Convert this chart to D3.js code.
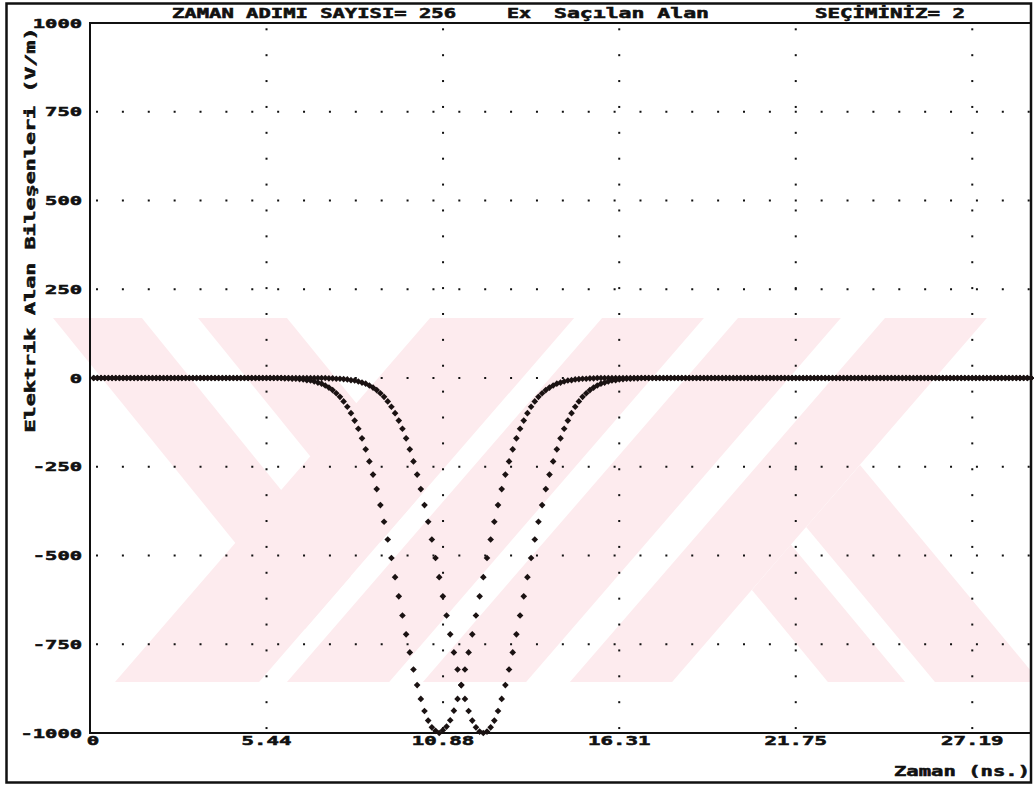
<!DOCTYPE html>
<html lang="tr">
<head>
<meta charset="utf-8">
<title>Ex Saçılan Alan</title>
<script src="https://d3js.org/d3.v7.min.js"></script>
<style>
  body { margin: 0; background: #fff; }
  text { font-family: "DejaVu Sans Mono", monospace; font-weight: bold; fill: #111; stroke: #111; stroke-width: 0.55px; }
</style>
</head>
<body>
<svg width="1034" height="787"></svg>
<script>
// zaman adimi sayisi ve eksen degerleri
var steps = 256;
var tMax = 29.0;
var xTicks = [0, 5.44, 10.88, 16.31, 21.75, 27.19];
var yTicks = [1000, 750, 500, 250, 0, -250, -500, -750, -1000];

// Ex sacilan alan, iki secim (V/m), 256 adim
var ex1 = [
  0,0,0,0,0,0,0,0,0,0,
  0,0,0,0,0,0,0,0,0,0,
  0,0,0,0,0,0,0,0,0,0,
  0,0,0,0,0,0,0,0,0,0,
  0,0,0,0,0,0,0,0,0,0,
  0,0,-1,-1,-2,-2,-3,-4,-6,-7,
  -10,-13,-16,-21,-27,-34,-43,-53,-66,-81,
  -99,-120,-143,-170,-201,-235,-272,-313,-358,-405,
  -455,-507,-561,-615,-669,-722,-773,-821,-865,-904,
  -938,-965,-984,-994,-1000,-992,-982,-964,-937,-904,
  -865,-821,-773,-722,-669,-615,-561,-507,-455,-405,
  -358,-313,-272,-235,-201,-170,-143,-120,-99,-81,
  -66,-53,-43,-34,-27,-21,-16,-13,-10,-7,
  -6,-4,-3,-2,-2,-1,-1,0,0,0,
  0,0,0,0,0,0,0,0,0,0,
  0,0,0,0,0,0,0,0,0,0,
  0,0,0,0,0,0,0,0,0,0,
  0,0,0,0,0,0,0,0,0,0,
  0,0,0,0,0,0,0,0,0,0,
  0,0,0,0,0,0,0,0,0,0,
  0,0,0,0,0,0,0,0,0,0,
  0,0,0,0,0,0,0,0,0,0,
  0,0,0,0,0,0,0,0,0,0,
  0,0,0,0,0,0,0,0,0,0,
  0,0,0,0,0,0,0,0,0,0,
  0,0,0,0,0,0
];
var ex2 = [
  0,0,0,0,0,0,0,0,0,0,
  0,0,0,0,0,0,0,0,0,0,
  0,0,0,0,0,0,0,0,0,0,
  0,0,0,0,0,0,0,0,0,0,
  0,0,0,0,0,0,0,0,0,0,
  0,0,0,0,0,0,0,0,0,0,
  0,0,0,0,-1,-1,-2,-2,-3,-4,
  -6,-7,-10,-13,-16,-21,-27,-34,-43,-53,
  -66,-81,-99,-120,-143,-170,-201,-235,-272,-313,
  -358,-405,-455,-507,-561,-615,-669,-722,-773,-821,
  -865,-904,-938,-965,-984,-996,-1000,-996,-984,-965,
  -938,-904,-865,-821,-773,-722,-669,-615,-561,-507,
  -455,-405,-358,-313,-272,-235,-201,-170,-143,-120,
  -99,-81,-66,-53,-43,-34,-27,-21,-16,-13,
  -10,-7,-6,-4,-3,-2,-2,-1,-1,0,
  0,0,0,0,0,0,0,0,0,0,
  0,0,0,0,0,0,0,0,0,0,
  0,0,0,0,0,0,0,0,0,0,
  0,0,0,0,0,0,0,0,0,0,
  0,0,0,0,0,0,0,0,0,0,
  0,0,0,0,0,0,0,0,0,0,
  0,0,0,0,0,0,0,0,0,0,
  0,0,0,0,0,0,0,0,0,0,
  0,0,0,0,0,0,0,0,0,0,
  0,0,0,0,0,0,0,0,0,0,
  0,0,0,0,0,0
];

// taramadaki pembe filigran (ns, V/m cinsinden)
var watermark = [
  [[-1.14,169],[1.60,169],[8.04,-558],[6.63,-707]],
  [[3.33,169],[6.07,169],[10.36,-313],[8.94,-463]],
  [[10.48,169],[14.92,169],[5.21,-856],[0.77,-856]],
  [[15.78,169],[18.92,169],[9.22,-856],[6.07,-856]],
  [[19.97,169],[23.14,169],[13.44,-856],[10.26,-856]],
  [[24.50,169],[27.64,169],[17.94,-856],[14.79,-856]],
  [[20.40,-597],[21.60,-469],[25.12,-856],[22.74,-856]],
  [[22.07,-420],[23.73,-245],[29.28,-856],[26.04,-856]]
];

var svg = d3.select("svg");
var margin = {top: 23, right: 3, bottom: 54, left: 90};
var W = +svg.attr("width"), H = +svg.attr("height");

var x = d3.scaleLinear().domain([0, tMax]).range([margin.left, W - margin.right]);
var y = d3.scaleLinear().domain([-1000, 1000]).range([H - margin.bottom, margin.top]);
var dt = tMax / steps;

svg.append("clipPath").attr("id", "wmclip")
  .append("rect").attr("x", 0).attr("y", 0)
  .attr("width", x.range()[1]).attr("height", H);

svg.append("g").attr("clip-path", "url(#wmclip)")
  .selectAll("polygon").data(watermark).enter().append("polygon")
  .attr("points", d => d.map(p => x(p[0]) + "," + y(p[1])).join(" "))
  .attr("fill", "#fdebee");

// dis cerceve
svg.append("rect")
  .attr("x", 6.5).attr("y", 3.5)
  .attr("width", x.range()[1] - 6.5).attr("height", 779)
  .attr("fill", "none").attr("stroke", "#111").attr("stroke-width", 2.5);

// grafik kutusu
svg.append("rect")
  .attr("x", x.range()[0]).attr("y", y.range()[1])
  .attr("width", x.range()[1] - x.range()[0])
  .attr("height", y.range()[0] - y.range()[1])
  .attr("fill", "none").attr("stroke", "#111").attr("stroke-width", 2);

// noktali izgara
var grid = svg.append("g").attr("fill", "#111");
var rowX = d3.range(x.range()[0] + 7, x.range()[1] - 1, 25.88);
yTicks.filter(v => Math.abs(v) < 1000).forEach(function(v) {
  grid.selectAll(null).data(rowX).enter().append("rect")
    .attr("x", d => d - 1).attr("y", y(v) - 1)
    .attr("width", 2).attr("height", 2);
});
var colY = d3.range(y.range()[1] + 6.3, y.range()[0] - 2, 25.88);
xTicks.filter(t => t > 0).forEach(function(t) {
  grid.selectAll(null).data(colY).enter().append("rect")
    .attr("x", x(t) - 1).attr("y", d => d - 1)
    .attr("width", 2).attr("height", 2);
});

// y ekseni etiketleri
svg.append("g").selectAll("text").data(yTicks).enter().append("text")
  .attr("x", 82).attr("y", d => y(d) + 4.5)
  .attr("text-anchor", "end")
  .attr("font-size", 12.5)
  .attr("textLength", d => String(d).length * 12.3)
  .attr("lengthAdjust", "spacingAndGlyphs")
  .text(d => d);

// x ekseni etiketleri
svg.append("g").selectAll("text").data(xTicks).enter().append("text")
  .attr("x", d => d === 0 ? x(d) + 3 : x(d))
  .attr("y", y(-1000) + 12)
  .attr("text-anchor", "middle")
  .attr("font-size", 12.5)
  .attr("textLength", d => String(d).length * 12.5)
  .attr("lengthAdjust", "spacingAndGlyphs")
  .text(d => d);

// baslik satiri
var titles = [
  {s: "ZAMAN ADIMI SAYISI= 256", x: 172, w: 284},
  {s: "Ex", x: 507, w: 24},
  {s: "Saçılan Alan", x: 554, w: 155},
  {s: "SEÇİMİNİZ= 2", x: 815, w: 150}
];
svg.append("g").selectAll("text").data(titles).enter().append("text")
  .attr("x", d => d.x).attr("y", 18)
  .attr("font-size", 13.5)
  .attr("textLength", d => d.w)
  .attr("lengthAdjust", "spacingAndGlyphs")
  .text(d => d.s);

svg.append("text")
  .attr("x", 1030).attr("y", 776)
  .attr("text-anchor", "end")
  .attr("font-size", 13.5)
  .attr("textLength", 136)
  .attr("lengthAdjust", "spacingAndGlyphs")
  .text("Zaman (ns.)");

svg.append("text")
  .attr("transform", "translate(35,230) rotate(-90)")
  .attr("text-anchor", "middle")
  .attr("font-size", 13.5)
  .attr("textLength", 405)
  .attr("lengthAdjust", "spacingAndGlyphs")
  .text("Elektrik Alan Bileşenleri (V/m)");

// veri noktalari
var marker = d3.symbol().type(d3.symbolSquare).size(22);
[ex1, ex2].forEach(function(series) {
  svg.append("g").selectAll("path").data(series).enter().append("path")
    .attr("d", marker)
    .attr("fill", "#1a1212")
    .attr("transform", (d, i) => "translate(" + x((i + 1) * dt) + "," + y(d) + ") rotate(45)");
});
</script>
</body>
</html>
